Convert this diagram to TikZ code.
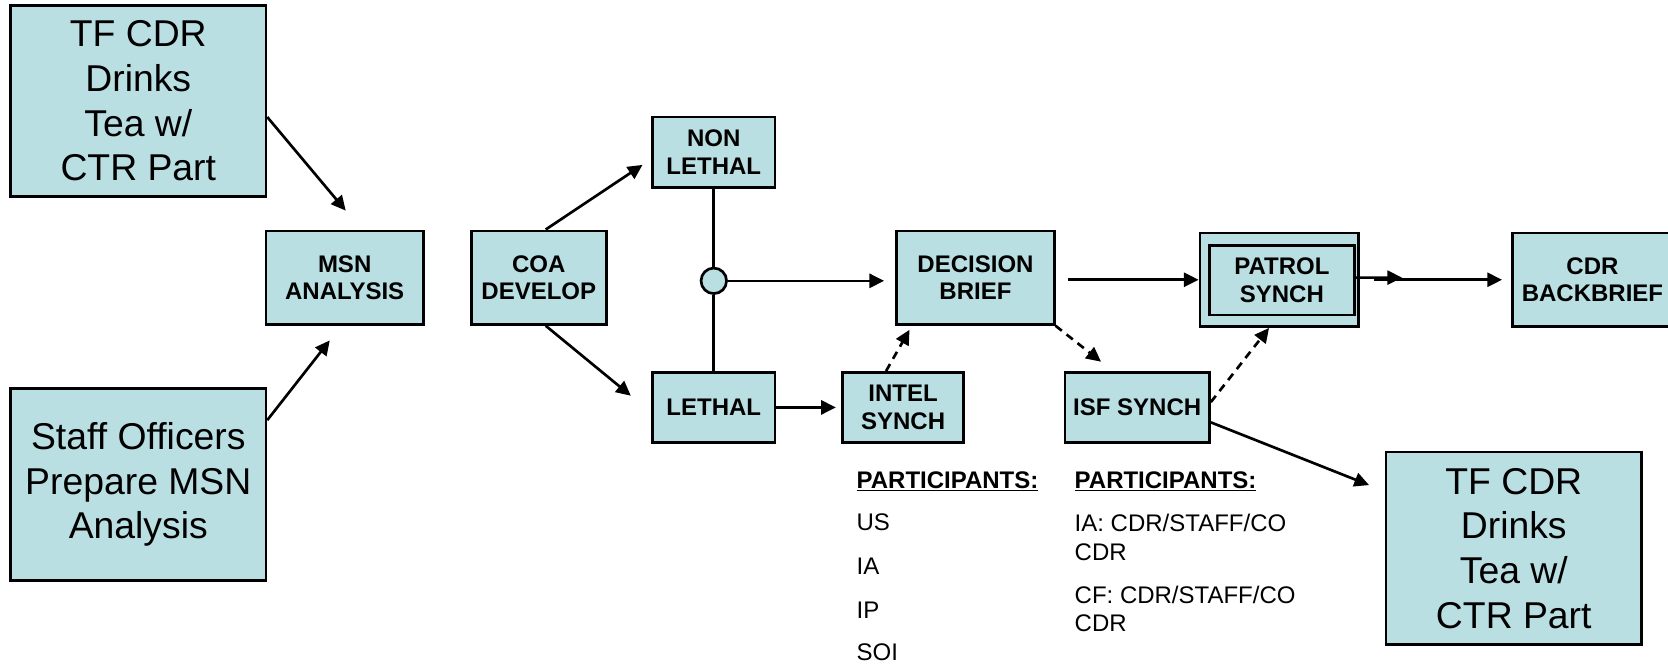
\documentclass[tikz,border=0pt]{standalone}
\usepackage{fontspec}
\setmainfont{Liberation Sans}
\usetikzlibrary{arrows.meta}
\definecolor{boxfill}{RGB}{185,223,227}
\tikzset{
  sz/.style 2 args={minimum width={#1*0.79787pt}, minimum height={#2*0.79787pt}},
  box/.style={draw=black, line width=2pt, fill=boxfill, align=center, inner sep=0pt,
    font=\bfseries\fontsize{18}{20.7}\selectfont},
  bigbox/.style={box, font=\fontsize{28}{33.5}\selectfont},
  arr/.style={line width=2pt, -{Triangle[length=11pt,width=10.5pt]}},
  darr/.style={arr, dash pattern=on 6pt off 4.5pt},
  ptext/.style={anchor=base west, inner sep=0pt, font=\fontsize{18}{21}\selectfont},
  phead/.style={ptext, font=\bfseries\fontsize{18}{21}\selectfont},
}
\begin{document}
\begin{tikzpicture}[x=0.79787pt, y=-0.79787pt]
\useasboundingbox (0,0) rectangle (1568,625);
% boxes
\node[bigbox, sz={240}{180}] (tf1) at (130,95) {TF CDR\\Drinks\\Tea w/\\CTR Part};
\node[box, sz={148}{88}] (msn) at (324,261) {MSN\\ANALYSIS};
\node[box, sz={127}{88}] (coa) at (506.5,261) {COA\\DEVELOP};
\node[box, sz={115}{66}] (nonlethal) at (671,143) {NON\\LETHAL};
\node[box, sz={115}{66}] (lethal) at (671,383) {LETHAL};
\node[circle, draw=black, line width=2pt, fill=boxfill, minimum size={24*0.79787pt}, inner sep=0pt] (junc) at (671,264) {};
\node[box, sz={114}{66}] (intel) at (849,383) {INTEL\\SYNCH};
\node[box, sz={148}{88}] (decision) at (917,261) {DECISION\\BRIEF};
\node[box, sz={136}{66}] (isf) at (1069,383) {ISF SYNCH};
\node[box, sz={149}{88}] (patrolout) at (1202.5,263) {};
\node[box, sz={136}{65}] (patrol) at (1205,263.5) {PATROL\\SYNCH};
\node[box, sz={150}{88}] (cdrbb) at (1497,263) {CDR\\BACKBRIEF};
\node[bigbox, sz={240}{181}] (staff) at (130,455.5) {Staff Officers\\Prepare MSN\\Analysis};
\node[bigbox, sz={240}{181}] (tf2) at (1423,515.5) {TF CDR\\Drinks\\Tea w/\\CTR Part};
% free ends
\coordinate (e1) at (325,198);
\coordinate (e2) at (310,320);
\coordinate (e3) at (604,155);
\coordinate (e4) at (593,372);
\coordinate (e6) at (855,310);
\coordinate (e7) at (1035,340);
\coordinate (e8) at (1318,261);
\coordinate (e10) at (1287,456);
% connectors
\draw[arr] ([yshift=-12pt]tf1.east) -- (e1);
\draw[arr] ([yshift=48.3pt]staff.east) -- (e2);
\draw[arr] ([xshift=5.2pt]coa.north) -- (e3);
\draw[arr] ([xshift=5.2pt]coa.south) -- (e4);
\draw[line width=2pt] (nonlethal.south) -- (junc.north);
\draw[line width=2pt] (junc.south) -- (lethal.north);
\draw[arr, shorten >=8.5pt] (junc.east) -- (junc.east -| decision.west);
\draw[arr, shorten >=4pt] (lethal.east) -- (intel.west);
\draw[darr] ([xshift=-12.8pt]intel.north) -- (e6);
\draw[darr] (decision.south east) -- (e7);
\draw[arr] ([xshift=9.6pt]decision.east |- patrolout.west) -- (patrolout.west);
\draw[arr] ([yshift=2pt]patrol.east) -- (e8);
\draw[arr, shorten >=7pt] ([xshift=10.4pt]patrolout.east) -- (cdrbb.west);
\draw[darr] ([yshift=4pt]isf.east) -- ([xshift=-7.6pt]patrolout.south);
\draw[arr] ([yshift=-11.2pt]isf.east) -- (e10);
% participants
\node[phead] (p1h) at (805,459) {\underline{PARTICIPANTS:}};
\node[ptext] (p1a) at (805,499) {US};
\node[ptext] (p1b) at (805,540) {IA};
\node[ptext] (p1c) at (805,581) {IP};
\node[ptext] (p1d) at (805,621) {SOI};
\node[phead] (p2h) at (1010,459) {\underline{PARTICIPANTS:}};
\node[ptext] (p2a) at (1010,500) {IA: CDR/STAFF/CO};
\node[ptext] (p2b) at (1010,527) {CDR};
\node[ptext] (p2c) at (1010,567) {CF: CDR/STAFF/CO};
\node[ptext] (p2d) at (1010,594) {CDR};
\end{tikzpicture}
\end{document}
